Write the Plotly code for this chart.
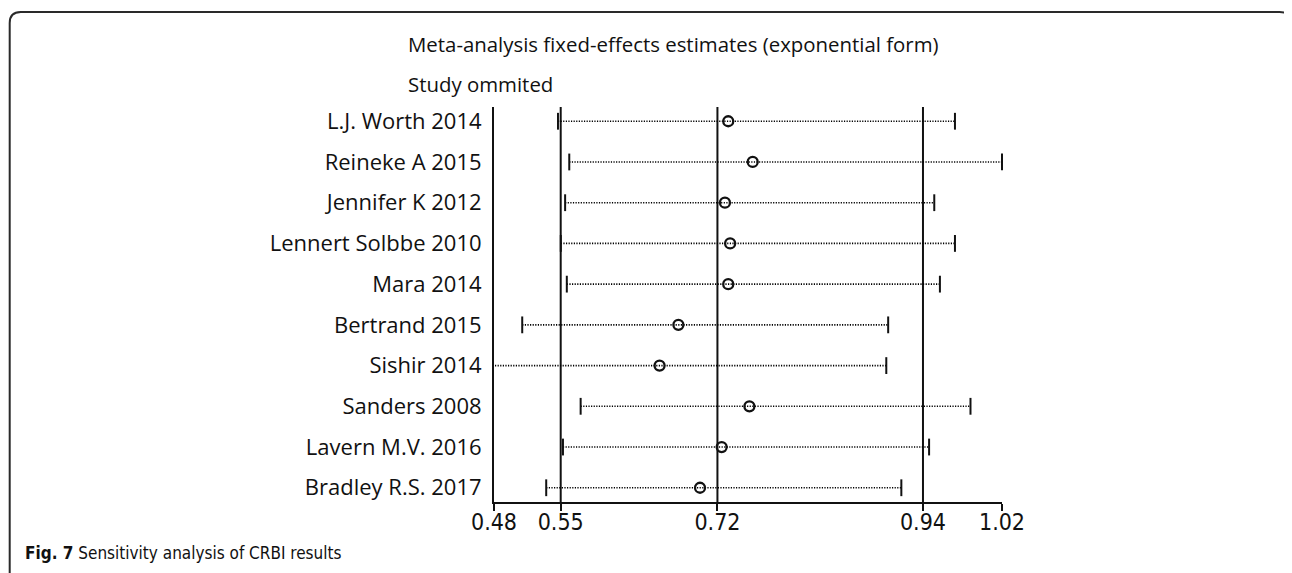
import plotly.graph_objects as go

# ---- data ----
studies = ["L.J. Worth 2014", "Reineke A 2015", "Jennifer K 2012", "Lennert Solbbe 2010",
           "Mara 2014", "Bertrand 2015", "Sishir 2014", "Sanders 2008",
           "Lavern M.V. 2016", "Bradley R.S. 2017"]
estimate = [0.729, 0.755, 0.7255, 0.731, 0.729, 0.676, 0.656, 0.7515, 0.722, 0.699]
lower = [0.548, 0.560, 0.5556, 0.551, 0.5574, 0.510, 0.470, 0.5721, 0.5533, 0.5355]
upper = [0.970, 1.020, 0.948, 0.970, 0.954, 0.899, 0.897, 0.9865, 0.9425, 0.913]
overall = [0.5509, 0.7175, 0.936]          # lower CI, estimate, upper CI (all studies)
axis_limits = [0.48, 1.02]
tick_labels = ["0.48", "0.55", "0.72", "0.94", "1.02"]

title_1 = "Meta-analysis fixed-effects estimates (exponential form)"
title_2 = "Study ommited"
caption_bold = "Fig. 7"
caption_text = " Sensitivity analysis of CRBI results"

FONT = "Open Sans, Noto Sans, DejaVu Sans, sans-serif"
NARROW = "Liberation Sans Narrow, DejaVu Sans Condensed, Open Sans, sans-serif"
INK = "#111111"

rows = list(range(1, len(studies) + 1))

fig = go.Figure()

# dotted confidence-interval lines
lx, ly = [], []
for r, lo, hi in zip(rows, lower, upper):
    lx += [lo, hi, None]
    ly += [r, r, None]
fig.add_trace(go.Scatter(x=lx, y=ly, mode="lines",
                         line=dict(color="#000000", width=1.6, dash="1.2px,1.4px"),
                         hoverinfo="skip", showlegend=False))

# interval caps (only those inside the axis range are drawn)
cx, cy = [], []
for r, lo, hi in zip(rows, lower, upper):
    for v in (lo, hi):
        if axis_limits[0] <= v <= axis_limits[1] + 1e-9:
            cx.append(v)
            cy.append(r)
fig.add_trace(go.Scatter(x=cx, y=cy, mode="markers", cliponaxis=False,
                         marker=dict(symbol="line-ns", size=12, color=INK,
                                     line=dict(color=INK, width=2)),
                         hoverinfo="skip", showlegend=False))

# point estimates
fig.add_trace(go.Scatter(x=estimate, y=rows, mode="markers", cliponaxis=False,
                         marker=dict(symbol="circle-open", size=10, color=INK,
                                     line=dict(color=INK, width=2.3)),
                         showlegend=False))

# reference lines at the overall estimate and its CI
for v in overall:
    fig.add_shape(type="line", xref="x", yref="paper", x0=v, x1=v, y0=0, y1=1,
                  line=dict(color=INK, width=2), layer="below")

# page offset of the figure inside the browser (body margin)
OFF = 8
W, H = 1292 - OFF, 573 - OFF
L, T = 494.3 - OFF, 107 - OFF
R = W - (1002.3 - OFF)
B = H - (501.7 - OFF)
pw, ph = W - L - R, H - T - B
def px(xp): return (xp - OFF - L) / pw          # xp: screen pixel
def py(yp): return (H - B - (yp - OFF)) / ph     # yp: screen pixel

# outer rounded frame (figure panel border)
x0, x1, y0, y1 = px(10), px(1291), py(12), py(600)
rx, ry = 11 / pw, 11 / ph
path = (f"M {x0},{y1} L {x0},{y0 - ry} Q {x0},{y0} {x0 + rx},{y0} "
        f"L {x1 - rx},{y0} Q {x1},{y0} {x1},{y0 - ry} L {x1},{y1}")
fig.add_shape(type="path", xref="paper", yref="paper", path=path,
              line=dict(color="#2a2a2a", width=2))

fig.add_annotation(text=title_1, xref="paper", yref="paper", x=px(406), y=py(44),
                   xanchor="left", yanchor="middle", showarrow=False,
                   font=dict(family=FONT, size=20.4, color=INK))
fig.add_annotation(text=title_2, xref="paper", yref="paper", x=px(406), y=py(84),
                   xanchor="left", yanchor="middle", showarrow=False,
                   font=dict(family=FONT, size=20.4, color=INK))
fig.add_annotation(text=f"<b>{caption_bold}</b>{caption_text}", xref="paper", yref="paper",
                   x=px(23), y=py(553), xanchor="left", yanchor="middle", showarrow=False,
                   font=dict(family=NARROW, size=17, color=INK))

fig.update_layout(
    width=W, height=H,
    margin=dict(l=L, r=R, t=T, b=B, pad=0),
    paper_bgcolor="white", plot_bgcolor="white",
    xaxis=dict(range=axis_limits,
               tickvals=[axis_limits[0]] + overall + [axis_limits[1]],
               ticktext=tick_labels,
               showgrid=False, zeroline=False,
               showline=True, linecolor=INK, linewidth=2,
               ticks="outside", ticklen=7, tickwidth=2, tickcolor=INK,
               ticklabelstandoff=-9,
               tickfont=dict(family=NARROW, size=23, color=INK)),
    yaxis=dict(range=[10.35, 0.65], tickvals=rows, ticktext=studies,
               showgrid=False, zeroline=False,
               showline=True, linecolor=INK, linewidth=2,
               ticks="", ticklabelstandoff=6,
               tickfont=dict(family=FONT, size=22, color=INK)),
)

fig.write_html("out.html")
